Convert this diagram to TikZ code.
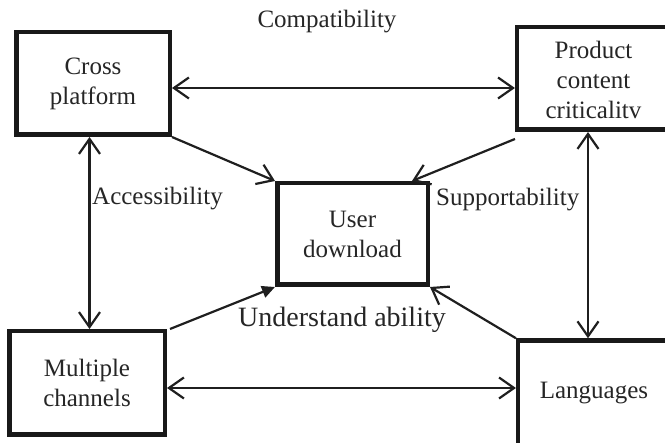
\documentclass[tikz,border=0pt]{standalone}
\usepackage{fontspec}
\setmainfont{Liberation Serif}
\usetikzlibrary{arrows.meta}
\begin{document}
\begin{tikzpicture}[x=1pt,y=-1pt,
  boxnode/.style={draw=black!90,line width=4.5pt,align=center,inner sep=0pt,
    font=\fontsize{25}{30}\selectfont,text=black!85},
  link/.style={line width=2.2pt,draw=black!88},
  barb/.tip={Straight Barb[length=15pt,width=21pt,line width=2.2pt]},
  lbl/.style={font=\fontsize{25}{30}\selectfont,text=black!85,inner sep=0pt}]
\fill[white] (0,0) rectangle (665,443);
\useasboundingbox (0,0) rectangle (665,443);
\begin{scope}
\clip (0,0) rectangle (665,443);
% boxes
\node[boxnode,minimum width=153.5pt,minimum height=102.5pt] (cross) at (93,83.5) {Cross\\platform};
\node[boxnode,minimum width=275pt,minimum height=102.5pt] (prod) at (654.7,78.5) {};
\node[lbl,align=center] (prodtext) at (593.5,80) {Product\\content\\criticalitv};
\node[boxnode,minimum width=150.5pt,minimum height=101.5pt] (user) at (352.5,234) {User\\download};
\node[boxnode,minimum width=155.5pt,minimum height=103.5pt] (mc) at (87,383) {Multiple\\channels};
\node[boxnode,minimum width=275pt,minimum height=165pt] (lang) at (655.7,423) {};
\node[lbl] (langtext) at (594,393) {Languages};
% helper coordinates
\coordinate (yt) at (0,88);
\coordinate (yb) at (0,388);
\coordinate (xl) at (89.5,0);
\coordinate (xr) at (588,0);
% connectors
\draw[link,barb-barb] (cross.east |- yt) -- (prod.west |- yt);
\draw[link,barb-barb] (mc.east |- yb) -- (lang.west |- yb);
\draw[link,barb-barb] (cross.south -| xl) -- (mc.north -| xl);
\draw[link,barb-barb] (prod.south -| xr) -- (lang.north -| xr);
\draw[link,-barb] (cross.south east) -- (user.north west);
\draw[link,-barb] ([yshift=-7pt]prod.south west) -- ([xshift=-18pt]user.north east);
\draw[link,-{Triangle[length=13pt,width=12pt]}] ([xshift=3pt]mc.north east) -- (user.south west);
\draw[link,-barb] (lang.north west) -- (user.south east);
% labels
\node[lbl,anchor=base] (comp) at (327,28) {Compatibility};
\node[lbl,anchor=base west] (acc) at (92,205) {Accessibility};
\node[lbl,anchor=base west] (sup) at (436,206) {Supportability};
\node[lbl,anchor=base west,font=\fontsize{28}{32}\selectfont] (und) at (238,327) {Understand ability};
\end{scope}
\end{tikzpicture}
\end{document}
